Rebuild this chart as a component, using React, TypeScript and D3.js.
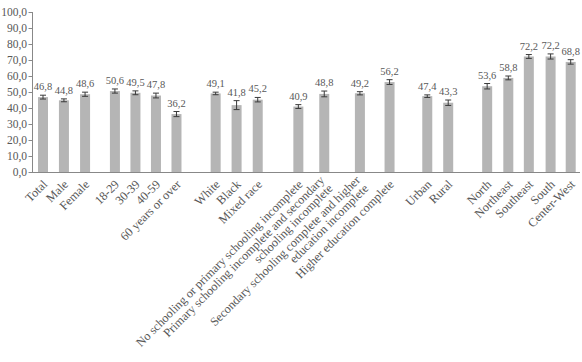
import React from "react";
import * as d3 from "d3";

// ---- data ----
const categories: string[][] = [
  ["Total"], ["Male"], ["Female"],
  ["18-29"], ["30-39"], ["40-59"], ["60 years or over"],
  ["White"], ["Black"], ["Mixed race"],
  ["No schooling or primary schooling incomplete"],
  ["Primary schooling incomplete and secondary", "schooling incomplete"],
  ["Secondary schooling complete and higher", "education incomplete"],
  ["Higher education complete"],
  ["Urban"], ["Rural"],
  ["North"], ["Northeast"], ["Southeast"], ["South"], ["Center-West"],
];
const values: number[] = [46.8, 44.8, 48.6, 50.6, 49.5, 47.8, 36.2, 49.1, 41.8, 45.2, 40.9, 48.8, 49.2, 56.2, 47.4, 43.3, 53.6, 58.8, 72.2, 72.2, 68.8];
const errors: number[] = [1.2, 0.9, 1.3, 1.3, 1.2, 1.5, 1.6, 0.8, 2.8, 1.4, 1.2, 1.8, 1.0, 1.5, 0.8, 1.7, 1.7, 1.2, 1.2, 1.6, 1.4];
const yTicks: number[] = [0, 10, 20, 30, 40, 50, 60, 70, 80, 90, 100];

// ---- layout (slot index of each category along the axis) ----
const slots: number[] = [0, 1.01, 2.03, 3.47, 4.46, 5.45, 6.44, 8.33, 9.34, 10.36, 12.32, 13.57, 15.29, 16.72, 18.54, 19.55, 21.43, 22.45, 23.44, 24.49, 25.46];

const W = 582, H = 362;
const FONT = "'Liberation Serif', 'DejaVu Serif', serif";
const TXT = "#585858";
const BAR = "#b5b5b5";

export default function App() {
  const x = d3.scaleLinear().domain([0, 25.46]).range([43, 570.7]);
  const y = d3.scaleLinear().domain([0, 100]).range([172, 12]);
  const bw = 10;
  const fmt = (v: number) => v.toFixed(1).replace(".", ",");
  return (
    <svg width={W} height={H} style={{ position: "absolute", left: 0, top: 0 }} fontFamily={FONT}>
      {/* y axis */}
      <line x1={32.5} x2={32.5} y1={y(100)} y2={y(0)} stroke="#888" strokeWidth={1} />
      {yTicks.map((t) => (
        <g key={t}>
          <line x1={28.5} x2={32.5} y1={Math.round(y(t)) + 0.5} y2={Math.round(y(t)) + 0.5} stroke="#888" />
          <text x={27} y={y(t)} dy="0.35em" textAnchor="end" fontSize={11.5} fill={TXT}>{fmt(t)}</text>
        </g>
      ))}
      {/* bars */}
      {values.map((v, i) => {
        const cx = x(slots[i]);
        const top = y(v + errors[i]);
        const bot = y(v - errors[i]);
        return (
          <g key={i}>
            <rect x={cx - bw / 2} y={y(v)} width={bw} height={y(0) - y(v)} fill={BAR} />
            <line x1={cx} x2={cx} y1={top} y2={bot} stroke="#3a3a3a" strokeWidth={1} />
            <line x1={cx - 3} x2={cx + 3} y1={top} y2={top} stroke="#3a3a3a" strokeWidth={1} />
            <line x1={cx - 3} x2={cx + 3} y1={bot} y2={bot} stroke="#3a3a3a" strokeWidth={1} />
            <text x={cx} y={top - 5} textAnchor="middle" fontSize={10.5} fill={TXT}>{fmt(v)}</text>
          </g>
        );
      })}
      {/* x axis */}
      <line x1={32} x2={580} y1={172.5} y2={172.5} stroke="#888" strokeWidth={1.2} />
      {categories.map((lines, i) => {
        const cx = x(slots[i]) + 2;
        const cy = 182;
        const n = lines.length;
        return (
          <text key={i} transform={`translate(${cx},${cy}) rotate(-45)`} textAnchor="end" fontSize={12.3} fill={TXT}>
            {lines.map((l, j) => (
              <tspan key={j} x={0} y={0} dy={`${(j - (n - 1) / 2) * 0.95 + 0.35}em`}>{l}</tspan>
            ))}
          </text>
        );
      })}
    </svg>
  );
}
